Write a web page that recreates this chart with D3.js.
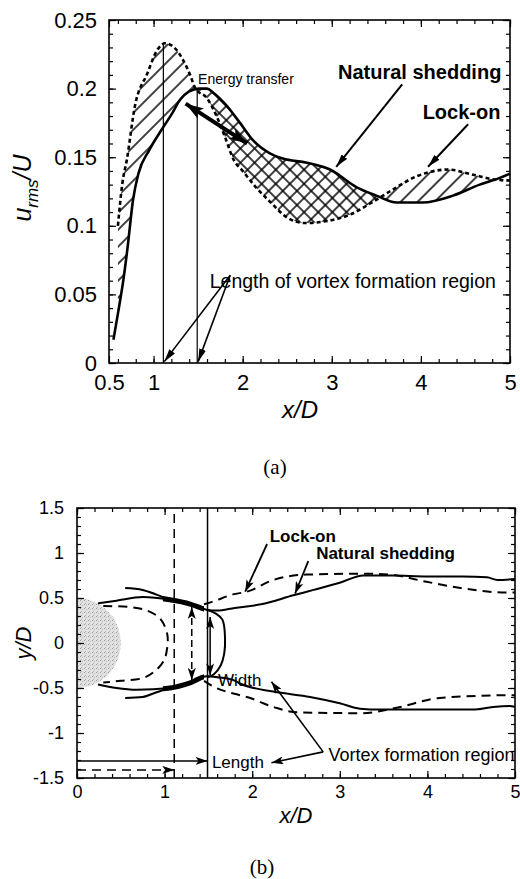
<!DOCTYPE html>
<html>
<head>
<meta charset="utf-8">
<script src="https://cdn.jsdelivr.net/npm/d3@7"></script>
<style>
  body { margin: 0; background: #fff; }
  svg { display: block; }
  text { font-family: "Liberation Sans", Arial, sans-serif; fill: #000; }
</style>
</head>
<body>
<svg id="fig" width="520" height="879"></svg>
<script>
/// data : panel (a), u_rms/U along the centreline ///
const natX  = [0.55, 0.6, 0.66, 0.71, 0.77, 0.83, 0.95, 1.09, 1.2, 1.3, 1.4, 1.51, 1.6, 1.67, 1.8, 1.97, 2.12, 2.3, 2.45, 2.72, 2.98, 3.28, 3.5, 3.73, 4.02, 4.36, 4.66, 4.85, 5.0];
const natY  = [0.017, 0.036, 0.06, 0.085, 0.119, 0.138, 0.155, 0.17, 0.181, 0.192, 0.198, 0.2, 0.2, 0.197, 0.189, 0.175, 0.162, 0.153, 0.149, 0.146, 0.141, 0.128, 0.122, 0.117, 0.117, 0.122, 0.13, 0.134, 0.138];
const lockX = [0.6, 0.65, 0.7, 0.79, 0.93, 1.04, 1.13, 1.26, 1.33, 1.41, 1.47, 1.6, 1.7, 1.8, 1.9, 2.0, 2.15, 2.3, 2.5, 2.7, 2.9, 3.2, 3.45, 3.65, 3.95, 4.3, 4.6, 4.8, 5.0];
const lockY = [0.1, 0.131, 0.148, 0.187, 0.211, 0.228, 0.233, 0.228, 0.221, 0.21, 0.2, 0.193, 0.181, 0.165, 0.148, 0.14, 0.128, 0.118, 0.106, 0.102, 0.103, 0.108, 0.117, 0.125, 0.136, 0.141, 0.137, 0.134, 0.133];
// length of the vortex formation region : [lock-on, natural shedding]
const formLen = [1.11, 1.49];
const xTicksA = [0.5, 1, 2, 3, 4, 5];
const yTicksA = [0, 0.05, 0.1, 0.15, 0.2, 0.25];

/// data : panel (b), shear layers and formation region ///
const nsUpX = [0.24, 0.45, 0.75, 1.06, 1.3, 1.48, 1.6, 1.8, 2.1, 2.47, 2.7, 3.0, 3.27, 3.6, 4.0, 4.4, 4.68, 4.8, 5.0];
const nsUpY = [0.44, 0.47, 0.51, 0.48, 0.43, 0.37, 0.36, 0.39, 0.43, 0.53, 0.59, 0.67, 0.75, 0.75, 0.74, 0.74, 0.73, 0.70, 0.71];
const nsLoX = [0.24, 0.45, 0.68, 1.06, 1.3, 1.48, 1.6, 1.78, 1.86, 2.24, 2.66, 3.0, 3.23, 3.46, 4.0, 4.52, 4.75, 4.94, 5.0];
const nsLoY = [-0.46, -0.5, -0.52, -0.5, -0.44, -0.37, -0.38, -0.41, -0.45, -0.54, -0.6, -0.67, -0.73, -0.74, -0.74, -0.74, -0.71, -0.70, -0.71];
const nsBrUpX = [0.55, 0.75, 0.9, 1.06];
const nsBrUpY = [0.61, 0.59, 0.54, 0.48];
const nsBrLoX = [0.55, 0.75, 0.9, 1.06];
const nsBrLoY = [-0.61, -0.6, -0.55, -0.5];
const nsCloseX = [1.48, 1.58, 1.66, 1.69, 1.68, 1.64, 1.56, 1.49];
const nsCloseY = [0.37, 0.33, 0.26, 0.05, -0.12, -0.25, -0.35, -0.38];
const lkUpX = [1.45, 1.55, 1.78, 1.94, 2.24, 2.62, 3.27, 3.57, 3.99, 4.45, 4.91, 5.0];
const lkUpY = [0.43, 0.46, 0.54, 0.57, 0.70, 0.76, 0.77, 0.76, 0.68, 0.60, 0.56, 0.56];
const lkLoX = [1.45, 1.55, 1.86, 1.94, 2.24, 2.51, 3.26, 3.65, 4.14, 4.98, 5.0];
const lkLoY = [-0.42, -0.48, -0.58, -0.6, -0.71, -0.77, -0.78, -0.72, -0.61, -0.58, -0.58];
const lkLoopX = [0.3, 0.6, 0.8, 0.95, 1.03, 1.03, 0.99, 0.88, 0.75, 0.5, 0.3];
const lkLoopY = [0.41, 0.40, 0.36, 0.27, 0.1, -0.05, -0.2, -0.32, -0.39, -0.42, -0.44];
// width of the formation region : [lock-on, natural shedding]
const widthX   = [1.31, 1.52];
const widthTop = [0.40, 0.29];
const widthBot = [-0.41, -0.36];
// length arrows along the bottom : [lock-on, natural shedding]
const lengthY = [-1.41, -1.31];
const cylR = 0.5;
const xTicksB = [0, 1, 2, 3, 4, 5];
const yTicksB = [-1.5, -1, -0.5, 0, 0.5, 1, 1.5];

/// setup ///
const svg = d3.select("#fig");
const defs = svg.append("defs");

// hatch patterns
function hatch(id, gap, cross) {
  const p = defs.append("pattern").attr("id", id)
    .attr("patternUnits", "userSpaceOnUse")
    .attr("width", gap).attr("height", gap)
    .attr("patternTransform", "rotate(45)");
  p.append("line").attr("x1", gap / 2).attr("x2", gap / 2).attr("y1", 0).attr("y2", gap)
    .attr("stroke", "#000").attr("stroke-width", 1.5);
  if (cross) p.append("line").attr("y1", gap / 2).attr("y2", gap / 2).attr("x1", 0).attr("x2", gap)
    .attr("stroke", "#000").attr("stroke-width", 1.5);
}
hatch("hatch", 12, false);
hatch("xhatch", 10, true);

// stipple for the cylinder
const st = defs.append("pattern").attr("id", "stipple")
  .attr("patternUnits", "userSpaceOnUse").attr("width", 4).attr("height", 4);
st.append("rect").attr("width", 4).attr("height", 4).attr("fill", "#e2e2e2");
[[0, 0, "#9a9a9a"], [2, 1, "#bdbdbd"], [1, 3, "#b0b0b0"]].forEach(([x, y, c]) =>
  st.append("rect").attr("x", x).attr("y", y).attr("width", 1).attr("height", 1).attr("fill", c));

// arrow heads
function head(id, len, wid, d) {
  defs.append("marker").attr("id", id)
    .attr("markerUnits", "userSpaceOnUse")
    .attr("viewBox", `0 0 ${len} ${wid}`)
    .attr("markerWidth", len).attr("markerHeight", wid)
    .attr("refX", len).attr("refY", wid / 2)
    .attr("orient", "auto-start-reverse")
    .append("path").attr("d", d).attr("fill", "#000");
}
head("hA", 13, 7, "M0,0 L13,3.5 L0,7 Z");
head("hE", 18, 12, "M0,0 L18,6 L0,12 L4,6 Z");
head("hB", 12, 8, "M0,0 L12,4 L0,8 L3,4 Z");

// frame with inward ticks on four sides
function frame(g, x, y, o) {
  const [x0, x1] = x.range();
  const [yB, yT] = y.range();
  const put = (axis, tr) => {
    const a = g.append("g").attr("transform", tr).call(axis);
    a.select(".domain").remove();
    a.selectAll("line").attr("stroke-width", 1.2);
    return a;
  };
  const fmt = d => String(d);
  put(d3.axisBottom(x).tickValues(o.xMinor).tickSize(-4).tickFormat(""), `translate(0,${yB})`);
  put(d3.axisTop(x).tickValues(o.xMinor).tickSize(-4).tickFormat(""), `translate(0,${yT})`);
  put(d3.axisLeft(y).tickValues(o.yMinor).tickSize(-4).tickFormat(""), `translate(${x0},0)`);
  put(d3.axisRight(y).tickValues(o.yMinor).tickSize(-4).tickFormat(""), `translate(${x1},0)`);
  put(d3.axisTop(x).tickValues(o.xMajor).tickSize(-7).tickFormat(""), `translate(0,${yT})`);
  put(d3.axisRight(y).tickValues(o.yMajor).tickSize(-7).tickFormat(""), `translate(${x1},0)`);
  put(d3.axisBottom(x).tickValues(o.xMajor).tickSize(-7).tickPadding(o.padX).tickFormat(fmt), `translate(0,${yB})`)
    .attr("font-size", o.fs).attr("font-family", null);
  put(d3.axisLeft(y).tickValues(o.yMajor).tickSize(-7).tickPadding(o.padY).tickFormat(fmt), `translate(${x0},0)`)
    .attr("font-size", o.fs).attr("font-family", null);
  g.append("rect").attr("x", x0).attr("y", yT).attr("width", x1 - x0).attr("height", yB - yT)
    .attr("fill", "none").attr("stroke", "#000").attr("stroke-width", 1.6);
}

function arrow(g, x, y, p, q, w, m, both) {
  g.append("line")
    .attr("x1", x(p[0])).attr("y1", y(p[1])).attr("x2", x(q[0])).attr("y2", y(q[1]))
    .attr("stroke", "#000").attr("stroke-width", w)
    .attr("marker-end", `url(#${m})`)
    .attr("marker-start", both ? `url(#${m})` : null);
}

/////////////////////////////////////////////
//////////////// panel (a) //////////////////
/////////////////////////////////////////////
const xa = d3.scaleLinear().domain([0.5, 5]).range([109, 510]);
const ya = d3.scaleLinear().domain([0, 0.25]).range([363, 20]);
const gA = svg.append("g");

const lineA = d3.line().x(d => xa(d[0])).y(d => ya(d[1])).curve(d3.curveMonotoneX);
const aboveA = d3.area().x(d => xa(d[0])).y0(ya.range()[1]).y1(d => ya(d[1])).curve(d3.curveMonotoneX);
const belowA = d3.area().x(d => xa(d[0])).y0(ya.range()[0]).y1(d => ya(d[1])).curve(d3.curveMonotoneX);
const nat = d3.zip(natX, natY);
const lock = d3.zip(lockX, lockY);

defs.append("clipPath").attr("id", "aboveNat").append("path").attr("d", aboveA(nat));
defs.append("clipPath").attr("id", "aboveLock").append("path").attr("d", aboveA(lock));
defs.append("clipPath").attr("id", "midBand").append("rect")
  .attr("x", xa(1.4)).attr("width", xa(3.9) - xa(1.4)).attr("y", 0).attr("height", 400);

// lock-on above natural -> single hatch
gA.append("path").attr("d", belowA(lock)).attr("fill", "url(#hatch)").attr("clip-path", "url(#aboveNat)");
// natural above lock-on -> cross hatch
gA.append("g").attr("clip-path", "url(#midBand)")
  .append("path").attr("d", belowA(nat)).attr("fill", "url(#xhatch)").attr("clip-path", "url(#aboveLock)");

// formation length markers
const peaks = [d3.max(lockY), d3.max(natY)];
formLen.forEach((L, i) => {
  gA.append("line").attr("x1", xa(L)).attr("x2", xa(L)).attr("y1", ya(0)).attr("y2", ya(peaks[i]))
    .attr("stroke", "#000").attr("stroke-width", 1.2);
});

gA.append("path").attr("d", lineA(lock)).attr("fill", "none").attr("stroke", "#000")
  .attr("stroke-width", 2.6).attr("stroke-dasharray", "4,3");
gA.append("path").attr("d", lineA(nat)).attr("fill", "none").attr("stroke", "#000")
  .attr("stroke-width", 2.6);

// annotations
arrow(gA, xa, ya, [1.36, 0.189], [2.05, 0.16], 4, "hE", true);
gA.append("text").attr("x", xa(1.5)).attr("y", ya(0.203)).attr("font-size", 14).text("Energy transfer");
gA.append("text").attr("x", xa(3.07)).attr("y", ya(0.207)).attr("font-size", 20).attr("font-weight", "bold").text("Natural shedding");
arrow(gA, xa, ya, [3.79, 0.203], [3.05, 0.143], 2, "hA");
gA.append("text").attr("x", xa(4.02)).attr("y", ya(0.178)).attr("font-size", 20).attr("font-weight", "bold").text("Lock-on");
arrow(gA, xa, ya, [4.53, 0.174], [4.08, 0.143], 2, "hA");
gA.append("text").attr("x", xa(1.63)).attr("y", ya(0.055)).attr("font-size", 19.5).text("Length of vortex formation region");
formLen.forEach(L => arrow(gA, xa, ya, [1.86, 0.064], [L + 0.01, 0.001], 1.6, "hA"));

frame(gA, xa, ya, {
  xMajor: xTicksA, xMinor: d3.range(3, 26).map(i => i / 5),
  yMajor: yTicksA, yMinor: d3.range(0, 26).map(i => i / 100),
  fs: 22, padX: 11, padY: 12
});

gA.append("text").attr("x", 300).attr("y", 418).attr("text-anchor", "middle")
  .attr("font-size", 24).attr("font-style", "italic").text("x/D");
const yl = gA.append("text").attr("transform", "translate(31,188) rotate(-90)")
  .attr("text-anchor", "middle").attr("font-size", 25).attr("font-style", "italic");
yl.append("tspan").text("u");
yl.append("tspan").attr("font-size", 17).attr("dy", 7).text("rms");
yl.append("tspan").attr("dy", -7).text("/U");

svg.append("text").attr("x", 275).attr("y", 474).attr("text-anchor", "middle")
  .attr("font-size", 21).style("font-family", "'Liberation Serif', 'Times New Roman', serif").text("(a)");

/////////////////////////////////////////////
//////////////// panel (b) //////////////////
/////////////////////////////////////////////
const xb = d3.scaleLinear().domain([0, 5]).range([77, 515]);
const yb = d3.scaleLinear().domain([-1.5, 1.5]).range([778, 508]);
const gB = svg.append("g");

const lineB = d3.line().x(d => xb(d[0])).y(d => yb(d[1])).curve(d3.curveMonotoneX);
const loopB = d3.line().x(d => xb(d[0])).y(d => yb(d[1])).curve(d3.curveCatmullRom);

// cylinder
const cx = xb(0), cy = yb(0), rx = xb(cylR) - xb(0), ry = yb(-cylR) - yb(0);
gB.append("path").attr("d", `M${cx},${cy - ry} A${rx},${ry} 0 0 1 ${cx},${cy + ry} Z`).attr("fill", "url(#stipple)");

// formation length lines
[0, 1].forEach(i => {
  gB.append("line").attr("x1", xb(formLen[i])).attr("x2", xb(formLen[i]))
    .attr("y1", yb(-1.5)).attr("y2", yb(1.5))
    .attr("stroke", "#000").attr("stroke-width", 1.5)
    .attr("stroke-dasharray", i === 0 ? "9,6" : null);
});

const solid = (d, w) => gB.append("path").attr("d", d).attr("fill", "none").attr("stroke", "#000").attr("stroke-width", w || 2);
const dashed = d => solid(d, 2).attr("stroke-dasharray", "9,6");

solid(lineB(d3.zip(nsUpX, nsUpY)));
solid(lineB(d3.zip(nsLoX, nsLoY)));
solid(lineB(d3.zip(nsBrUpX, nsBrUpY)));
solid(lineB(d3.zip(nsBrLoX, nsBrLoY)));
solid(loopB(d3.zip(nsCloseX, nsCloseY)));
// thickened convergence of the shear layers
defs.append("clipPath").attr("id", "thick").append("rect")
  .attr("x", xb(0.98)).attr("width", xb(1.45) - xb(0.98)).attr("y", 500).attr("height", 300);
solid(lineB(d3.zip(nsUpX, nsUpY)), 5).attr("clip-path", "url(#thick)");
solid(lineB(d3.zip(nsLoX, nsLoY)), 5).attr("clip-path", "url(#thick)");

dashed(lineB(d3.zip(lkUpX, lkUpY)));
dashed(lineB(d3.zip(lkLoX, lkLoY)));
dashed(loopB(d3.zip(lkLoopX, lkLoopY)));

// width arrows
widthX.forEach((x, i) => {
  gB.append("line").attr("x1", xb(x)).attr("x2", xb(x)).attr("y1", yb(widthTop[i])).attr("y2", yb(widthBot[i]))
    .attr("stroke", "#000").attr("stroke-width", 1.5)
    .attr("stroke-dasharray", i === 0 ? "7,4" : null)
    .attr("marker-start", "url(#hB)").attr("marker-end", "url(#hB)");
});
// length arrows
lengthY.forEach((y, i) => {
  gB.append("line").attr("x1", xb(0)).attr("x2", xb(formLen[i])).attr("y1", yb(y)).attr("y2", yb(y))
    .attr("stroke", "#000").attr("stroke-width", 1.5)
    .attr("stroke-dasharray", i === 0 ? "9,6" : null)
    .attr("marker-end", "url(#hB)");
});

// annotations
gB.append("text").attr("x", xb(2.2)).attr("y", yb(1.12)).attr("font-size", 17).attr("font-weight", "bold").text("Lock-on");
arrow(gB, xb, yb, [2.17, 1.1], [1.92, 0.57], 1.8, "hB");
gB.append("text").attr("x", xb(2.73)).attr("y", yb(0.93)).attr("font-size", 17).attr("font-weight", "bold").text("Natural shedding");
arrow(gB, xb, yb, [2.64, 0.91], [2.49, 0.55], 1.8, "hB");
gB.append("text").attr("x", xb(1.61)).attr("y", yb(-0.48)).attr("font-size", 17).text("Width");
gB.append("text").attr("x", xb(1.54)).attr("y", yb(-1.39)).attr("font-size", 17).text("Length");
gB.append("text").attr("x", xb(2.87)).attr("y", yb(-1.31)).attr("font-size", 18).text("Vortex formation region");
arrow(gB, xb, yb, [2.81, -1.21], [2.22, -0.43], 1.6, "hB");
arrow(gB, xb, yb, [2.81, -1.21], [2.22, -1.33], 1.6, "hB");

frame(gB, xb, yb, {
  xMajor: xTicksB, xMinor: d3.range(0, 26).map(i => i / 5),
  yMajor: yTicksB, yMinor: d3.range(-15, 16).map(i => i / 10),
  fs: 18, padX: 7, padY: 13
});

gB.append("text").attr("x", 296).attr("y", 823).attr("text-anchor", "middle")
  .attr("font-size", 22).attr("font-style", "italic").text("x/D");
gB.append("text").attr("transform", "translate(31,643) rotate(-90)").attr("text-anchor", "middle")
  .attr("font-size", 22).attr("font-style", "italic").text("y/D");

svg.append("text").attr("x", 262).attr("y", 874).attr("text-anchor", "middle")
  .attr("font-size", 21).style("font-family", "'Liberation Serif', 'Times New Roman', serif").text("(b)");
</script>
</body>
</html>
